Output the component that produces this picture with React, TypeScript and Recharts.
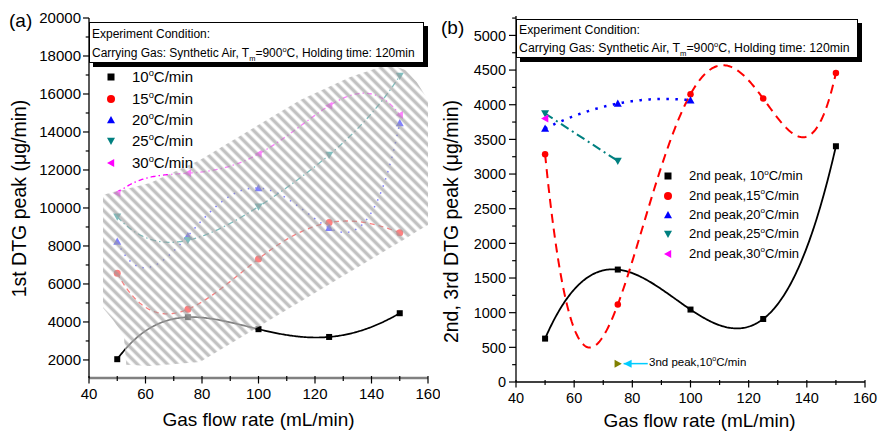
import React from 'react';
import { ComposedChart, Line, Area, XAxis, YAxis, Label } from 'recharts';

const FONT = '"Liberation Sans", Arial, Helvetica, sans-serif';

// gas flow rate (mL/min)
const flowRates = [50, 75, 100, 125, 150];

// (a) 1st DTG peak (µg/min) per heating rate
const peak1Rate10 = [2040, 4250, 3620, 3210, 4460];
const peak1Rate15 = [6560, 4670, 7320, 9230, 8700];
const peak1Rate20 = [8230, 8530, 11050, 8950, 14470];
const peak1Rate25 = [9540, 8300, 10070, 12790, 16950];
const peak1Rate30 = [10770, 11830, 12840, 15380, 14900];

// (b) 2nd / 3rd DTG peak (µg/min)
const peak2Rate10 = [626, 1622, 1045, 909, 3401];
const peak2Rate15 = [3286, 1117, 4152, 4089, 4459];
const peak2Rate20 = [3656, 4017, 4065];
const peak2Rate25 = [3873, 3189];
const peak2Rate30 = [3801];
const peak3Flow = [75];
const peak3Rate10 = [265];
const arrowFlow = [77, 85.3];
const arrowValue = [265, 265];

// hatched overlay drawn over panel (a)
const hatchFlow = [44.96, 48.5, 52.3, 53.2, 61.6, 79.3, 97, 114.8, 132.5, 143.1, 148, 152, 156, 160];
const hatchLow = [4740, 4100, 3300, 1750, 1684, 1895, 3474, 5058, 6642, 7589, 8031, 8379, 8758, 9105];
const hatchHigh = [10680, 10840, 10950, 11000, 11316, 12526, 14105, 15684, 16895, 17421, 17474, 17263, 16630, 15684];

// ticks
const xTicks = [40, 50, 60, 70, 80, 90, 100, 110, 120, 130, 140, 150, 160];
const xLabels = [40, 60, 80, 100, 120, 140, 160];
const yTicksA = [2000, 3000, 4000, 5000, 6000, 7000, 8000, 9000, 10000, 11000, 12000, 13000, 14000, 15000, 16000, 17000, 18000, 19000, 20000];
const yLabelsA = [2000, 4000, 6000, 8000, 10000, 12000, 14000, 16000, 18000, 20000];
const yTicksB = [0, 250, 500, 750, 1000, 1250, 1500, 1750, 2000, 2250, 2500, 2750, 3000, 3250, 3500, 3750, 4000, 4250, 4500, 4750, 5000, 5250];
const yLabelsB = [0, 500, 1000, 1500, 2000, 2500, 3000, 3500, 4000, 4500, 5000];

type Pt = { x: number; y: number };
const pts = (xs: number[], ys: number[]): Pt[] => ys.map((y, i) => ({ x: xs[i], y }));
const hatchData = hatchFlow.map((x, i) => ({ x, band: [hatchLow[i], hatchHigh[i]] }));

// interpolating polynomial through all points (what the original plotting tool drew)
const polynomialCurve = (context: any) => {
  let xs: number[] = [];
  let ys: number[] = [];
  return {
    areaStart() {},
    areaEnd() {},
    lineStart() {
      xs = [];
      ys = [];
    },
    point(x: number, y: number) {
      xs.push(+x);
      ys.push(+y);
    },
    lineEnd() {
      const n = xs.length;
      if (!n) return;
      context.moveTo(xs[0], ys[0]);
      if (n < 3) {
        for (let i = 1; i < n; i++) context.lineTo(xs[i], ys[i]);
        return;
      }
      const steps = 240;
      for (let s = 1; s <= steps; s++) {
        const x = xs[0] + ((xs[n - 1] - xs[0]) * s) / steps;
        let y = 0;
        for (let i = 0; i < n; i++) {
          let l = 1;
          for (let j = 0; j < n; j++) if (j !== i) l *= (x - xs[j]) / (xs[i] - xs[j]);
          y += l * ys[i];
        }
        context.lineTo(x, y);
      }
    },
  };
};

type Shape = 'square' | 'circle' | 'up' | 'down' | 'left' | 'right';

const Marker = ({ shape, cx, cy, color, size }: { shape: Shape; cx: number; cy: number; color: string; size: number }) => {
  const s = size / 2;
  if (shape === 'square') return <rect x={cx - s} y={cy - s} width={size} height={size} fill={color} />;
  if (shape === 'circle') return <circle cx={cx} cy={cy} r={s} fill={color} />;
  let p = '';
  if (shape === 'up') p = `${cx},${cy - s} ${cx + s},${cy + s * 0.8} ${cx - s},${cy + s * 0.8}`;
  if (shape === 'down') p = `${cx},${cy + s} ${cx + s},${cy - s * 0.8} ${cx - s},${cy - s * 0.8}`;
  if (shape === 'left') p = `${cx - s},${cy} ${cx + s * 0.8},${cy - s} ${cx + s * 0.8},${cy + s}`;
  if (shape === 'right') p = `${cx + s},${cy} ${cx - s * 0.8},${cy - s} ${cx - s * 0.8},${cy + s}`;
  return <polygon points={p} fill={color} />;
};

const dotOf = (shape: Shape, color: string, size: number) => (p: any) => (
  <Marker key={`d-${p.index}`} shape={shape} cx={p.cx} cy={p.cy} color={color} size={size} />
);

type Series = { key: string; data: Pt[]; color: string; shape: Shape; dash?: string; width: number; size: number };

const seriesA: Series[] = [
  { key: 'a10', data: pts(flowRates, peak1Rate10), color: '#000000', shape: 'square', width: 1.7, size: 6 },
  { key: 'a15', data: pts(flowRates, peak1Rate15), color: '#ff0000', shape: 'circle', dash: '5 4', width: 1.3, size: 7 },
  { key: 'a20', data: pts(flowRates, peak1Rate20), color: '#0000ff', shape: 'up', dash: '1.5 6', width: 1.5, size: 8 },
  { key: 'a25', data: pts(flowRates, peak1Rate25), color: '#008080', shape: 'down', dash: '6 3 1.5 3', width: 1.3, size: 8 },
  { key: 'a30', data: pts(flowRates, peak1Rate30), color: '#ff00ff', shape: 'left', dash: '5 3 1.5 3', width: 1.3, size: 8 },
];

const seriesB: Series[] = [
  { key: 'b10', data: pts(flowRates, peak2Rate10), color: '#000000', shape: 'square', width: 1.8, size: 6 },
  { key: 'b15', data: pts(flowRates, peak2Rate15), color: '#ff0000', shape: 'circle', dash: '9 6', width: 2, size: 6.5 },
  { key: 'b20', data: pts(flowRates, peak2Rate20), color: '#0000ff', shape: 'up', dash: '2.5 6.5', width: 2.5, size: 8 },
  { key: 'b25', data: pts(flowRates, peak2Rate25), color: '#008080', shape: 'down', dash: '9 4 2 4', width: 2, size: 8 },
  { key: 'b30', data: pts(flowRates, peak2Rate30), color: '#ff00ff', shape: 'left', width: 2, size: 8 },
];

const legendA = ['10', '15', '20', '25', '30'];
const legendB = ['2nd peak, 10', '2nd peak,15', '2nd peak,20', '2nd peak,25', '2nd peak,30'];

// tick renderers: tick lines drawn by hand so minor ticks can be shorter
const bottomTick = (size: number, base: number) => (p: any) => {
  const v = p.payload.value;
  const major = xLabels.includes(v);
  return (
    <g key={`bt-${v}`}>
      <line x1={p.x} y1={p.y - 2} x2={p.x} y2={p.y + (major ? 5.5 : 3)} stroke="#000" strokeWidth={1.2} />
      {major && (
        <text x={p.x} y={p.y + base} textAnchor="middle" fontSize={size} fontFamily={FONT} fill="#000">
          {v}
        </text>
      )}
    </g>
  );
};

const leftTick = (labels: number[], size: number, len: number, gap: number) => (p: any) => {
  const v = p.payload.value;
  const major = labels.includes(v);
  return (
    <g key={`lt-${v}`}>
      <line x1={p.x - (major ? len : len * 0.55)} y1={p.y} x2={p.x} y2={p.y} stroke="#000" strokeWidth={1.2} />
      {major && (
        <text x={p.x - len - gap} y={p.y + size * 0.36} textAnchor="end" fontSize={size} fontFamily={FONT} fill="#000">
          {v}
        </text>
      )}
    </g>
  );
};

const topTick = (p: any) => (
  <line key={`tt-${p.payload.value}`} x1={p.x} y1={p.y} x2={p.x} y2={p.y + 3.5} stroke="#000" strokeWidth={1} />
);

const rightTick = (p: any) => (
  <line key={`rt-${p.payload.value}`} x1={p.x - 4} y1={p.y} x2={p.x} y2={p.y} stroke="#000" strokeWidth={1} />
);

const Deg = ({ size }: { size: number }) => (
  <span style={{ fontSize: size * 0.62, position: 'relative', top: -size * 0.42 }}>o</span>
);

const ConditionBox = ({ left, top, width, height, fontSize, t1, t2 }: any) => (
  <div
    style={{
      position: 'absolute',
      left,
      top,
      width,
      height,
      boxSizing: 'border-box',
      border: '1px solid #000',
      boxShadow: '4px 4px 0 #000',
      background: '#fff',
      fontSize,
      lineHeight: '14px',
      whiteSpace: 'nowrap',
    }}
  >
    <div style={{ position: 'absolute', left: 2, top: t1 }}>Experiment Condition:</div>
    <div style={{ position: 'absolute', left: 2, top: t2 }}>
      Carrying Gas: Synthetic Air, T
      <span style={{ fontSize: fontSize * 0.62, position: 'relative', top: 4 }}>m</span>
      =900
      <Deg size={fontSize} />
      C, Holding time: 120min
    </div>
  </div>
);

const LegendBlock = ({ items, series, markerX, textX, rows, fontSize }: any) => (
  <>
    {items.map((label: string, i: number) => (
      <React.Fragment key={label}>
        <svg style={{ position: 'absolute', left: markerX - 6, top: rows[i] - 6 }} width={12} height={12}>
          <Marker shape={series[i].shape} cx={6} cy={6} color={series[i].color} size={series[i].shape === 'square' ? 7 : 8} />
        </svg>
        <div
          style={{
            position: 'absolute',
            left: textX,
            top: rows[i] - 10,
            height: 20,
            lineHeight: '20px',
            fontSize,
            whiteSpace: 'nowrap',
          }}
        >
          {label}
          <Deg size={fontSize} />
          C/min
        </div>
      </React.Fragment>
    ))}
  </>
);

const axisLine = { stroke: '#000', strokeWidth: 1.3 };

const PanelA = () => (
  <ComposedChart width={440} height={431} margin={{ top: 18, right: 12, bottom: 0, left: 0 }}>
    <XAxis
      dataKey="x"
      type="number"
      domain={[40, 160]}
      ticks={xTicks}
      interval={0}
      height={53}
      tickSize={0}
      tickMargin={0}
      tickLine={false}
      axisLine={{ stroke: '#808080', strokeWidth: 2.5 }}
      tick={bottomTick(15, 20.5)}
    >
      <Label
        content={() => (
          <text x={258.5} y={426} textAnchor="middle" fontSize={19} fontFamily={FONT} fill="#000">
            Gas flow rate (mL/min)
          </text>
        )}
      />
    </XAxis>
    <XAxis xAxisId="top" orientation="top" type="number" domain={[40, 160]} ticks={xTicks} interval={0} height={0} tickSize={0} tickMargin={0} tickLine={false} axisLine={axisLine} tick={topTick} />
    <YAxis
      type="number"
      domain={[1050, 20000]}
      ticks={yTicksA}
      interval={0}
      width={89}
      tickSize={0}
      tickMargin={0}
      tickLine={false}
      axisLine={axisLine}
      tick={leftTick(yLabelsA, 15, 6, 2)}
      allowDataOverflow
    >
      <Label
        content={() => (
          <text x={26} y={198.5} transform="rotate(-90 26 198.5)" textAnchor="middle" fontSize={19.5} fontFamily={FONT} fill="#000">
            1st DTG peak (μg/min)
          </text>
        )}
      />
    </YAxis>
    <YAxis yAxisId="right" orientation="right" type="number" domain={[1050, 20000]} ticks={yTicksA} interval={0} width={0} tickSize={0} tickMargin={0} tickLine={false} axisLine={axisLine} tick={rightTick} />
    {seriesA.map((s) => (
      <Line
        key={s.key}
        data={s.data}
        dataKey="y"
        type={polynomialCurve as any}
        stroke={s.color}
        strokeWidth={s.width}
        strokeDasharray={s.dash}
        dot={dotOf(s.shape, s.color, s.size)}
        activeDot={false}
        isAnimationActive={false}
      />
    ))}
  </ComposedChart>
);

// same scales as panel (a), stacked on top so the stripes cover the curves
const HatchA = () => (
  <ComposedChart width={440} height={431} margin={{ top: 18, right: 12, bottom: 53, left: 89 }}>
    <defs>
      <pattern id="hatchA" patternUnits="userSpaceOnUse" width={7.07} height={7.07} patternTransform="rotate(-45)">
        <rect width={7.07} height={7.07} fill="#ffffff" fillOpacity={0.5} />
        <rect x={0.5} width={3.4} height={7.07} fill="#9a9a9a" fillOpacity={0.6} />
      </pattern>
    </defs>
    <XAxis dataKey="x" type="number" domain={[40, 160]} hide />
    <YAxis type="number" domain={[1050, 20000]} hide allowDataOverflow />
    <Area
      data={hatchData}
      dataKey="band"
      type="linear"
      stroke="none"
      fill="url(#hatchA)"
      fillOpacity={1}
      isAnimationActive={false}
      activeDot={false}
    />
  </ComposedChart>
);

const PanelB = () => (
  <ComposedChart width={439} height={431} margin={{ top: 16, right: 14, bottom: 0, left: 0 }}>
    <XAxis
      dataKey="x"
      type="number"
      domain={[40, 160]}
      ticks={xTicks}
      interval={0}
      height={49}
      tickSize={0}
      tickMargin={0}
      tickLine={false}
      axisLine={axisLine}
      tick={bottomTick(14.5, 21)}
    >
      <Label
        content={() => (
          <text x={259.5} y={427} textAnchor="middle" fontSize={19} fontFamily={FONT} fill="#000">
            Gas flow rate (mL/min)
          </text>
        )}
      />
    </XAxis>
    <XAxis xAxisId="top" orientation="top" type="number" domain={[40, 160]} ticks={xTicks} interval={0} height={0} tickSize={0} tickMargin={0} tickLine={false} axisLine={axisLine} tick={topTick} />
    <YAxis
      type="number"
      domain={[0, 5280]}
      ticks={yTicksB}
      interval={0}
      width={76}
      tickSize={0}
      tickMargin={0}
      tickLine={false}
      axisLine={axisLine}
      tick={leftTick(yLabelsB, 14.5, 7, 3)}
      allowDataOverflow
    >
      <Label
        content={() => (
          <text x={18} y={221.5} transform="rotate(-90 18 221.5)" textAnchor="middle" fontSize={19.5} fontFamily={FONT} fill="#000">
            2nd, 3rd DTG peak (μg/min)
          </text>
        )}
      />
    </YAxis>
    <YAxis yAxisId="right" orientation="right" type="number" domain={[0, 5280]} ticks={yTicksB} interval={0} width={0} tickSize={0} tickMargin={0} tickLine={false} axisLine={axisLine} tick={rightTick} />
    {seriesB.map((s) => (
      <Line
        key={s.key}
        data={s.data}
        dataKey="y"
        type={polynomialCurve as any}
        stroke={s.color}
        strokeWidth={s.width}
        strokeDasharray={s.dash}
        dot={dotOf(s.shape, s.color, s.size)}
        activeDot={false}
        isAnimationActive={false}
      />
    ))}
    <Line
      data={pts(arrowFlow, arrowValue)}
      dataKey="y"
      type="linear"
      stroke="#00ccff"
      strokeWidth={1.5}
      dot={(p: any) =>
        p.index === 0 ? (
          <polygon key="head" points={`${p.cx},${p.cy} ${p.cx + 8},${p.cy - 4} ${p.cx + 8},${p.cy + 4}`} fill="#00ccff" />
        ) : (
          <g key="tail" />
        )
      }
      activeDot={false}
      isAnimationActive={false}
    />
    <Line
      data={pts(peak3Flow, peak3Rate10)}
      dataKey="y"
      stroke="#808000"
      dot={dotOf('right', '#808000', 8)}
      activeDot={false}
      isAnimationActive={false}
    />
  </ComposedChart>
);

export default function App() {
  return (
    <div
      style={{
        position: 'absolute',
        left: 0,
        top: 0,
        width: 879,
        height: 431,
        background: '#fff',
        fontFamily: FONT,
        color: '#000',
        overflow: 'hidden',
      }}
    >
      <div style={{ position: 'absolute', left: 0, top: 0 }}>
        <PanelA />
      </div>
      <div style={{ position: 'absolute', left: 0, top: 0 }}>
        <HatchA />
      </div>
      <div style={{ position: 'absolute', left: 440, top: 0 }}>
        <PanelB />
      </div>

      <div style={{ position: 'absolute', left: 9, top: 10, fontSize: 19 }}>(a)</div>
      <div style={{ position: 'absolute', left: 441, top: 17, fontSize: 19 }}>(b)</div>

      <ConditionBox left={89} top={22} width={335} height={41} fontSize={12} t1={4} t2={23} />
      <ConditionBox left={516} top={19} width={342} height={39} fontSize={12.3} t1={3} t2={21} />

      <LegendBlock items={legendA} series={seriesA} markerX={111} textX={132} rows={[77, 99, 120, 141, 163]} fontSize={15} />
      <LegendBlock items={legendB} series={seriesB} markerX={668} textX={689} rows={[176, 195.5, 214.5, 234, 253.5]} fontSize={13} />

      <div style={{ position: 'absolute', left: 649, top: 354, fontSize: 11.5, whiteSpace: 'nowrap', lineHeight: '16px' }}>
        3nd peak,10
        <Deg size={11.5} />
        C/min
      </div>
    </div>
  );
}
